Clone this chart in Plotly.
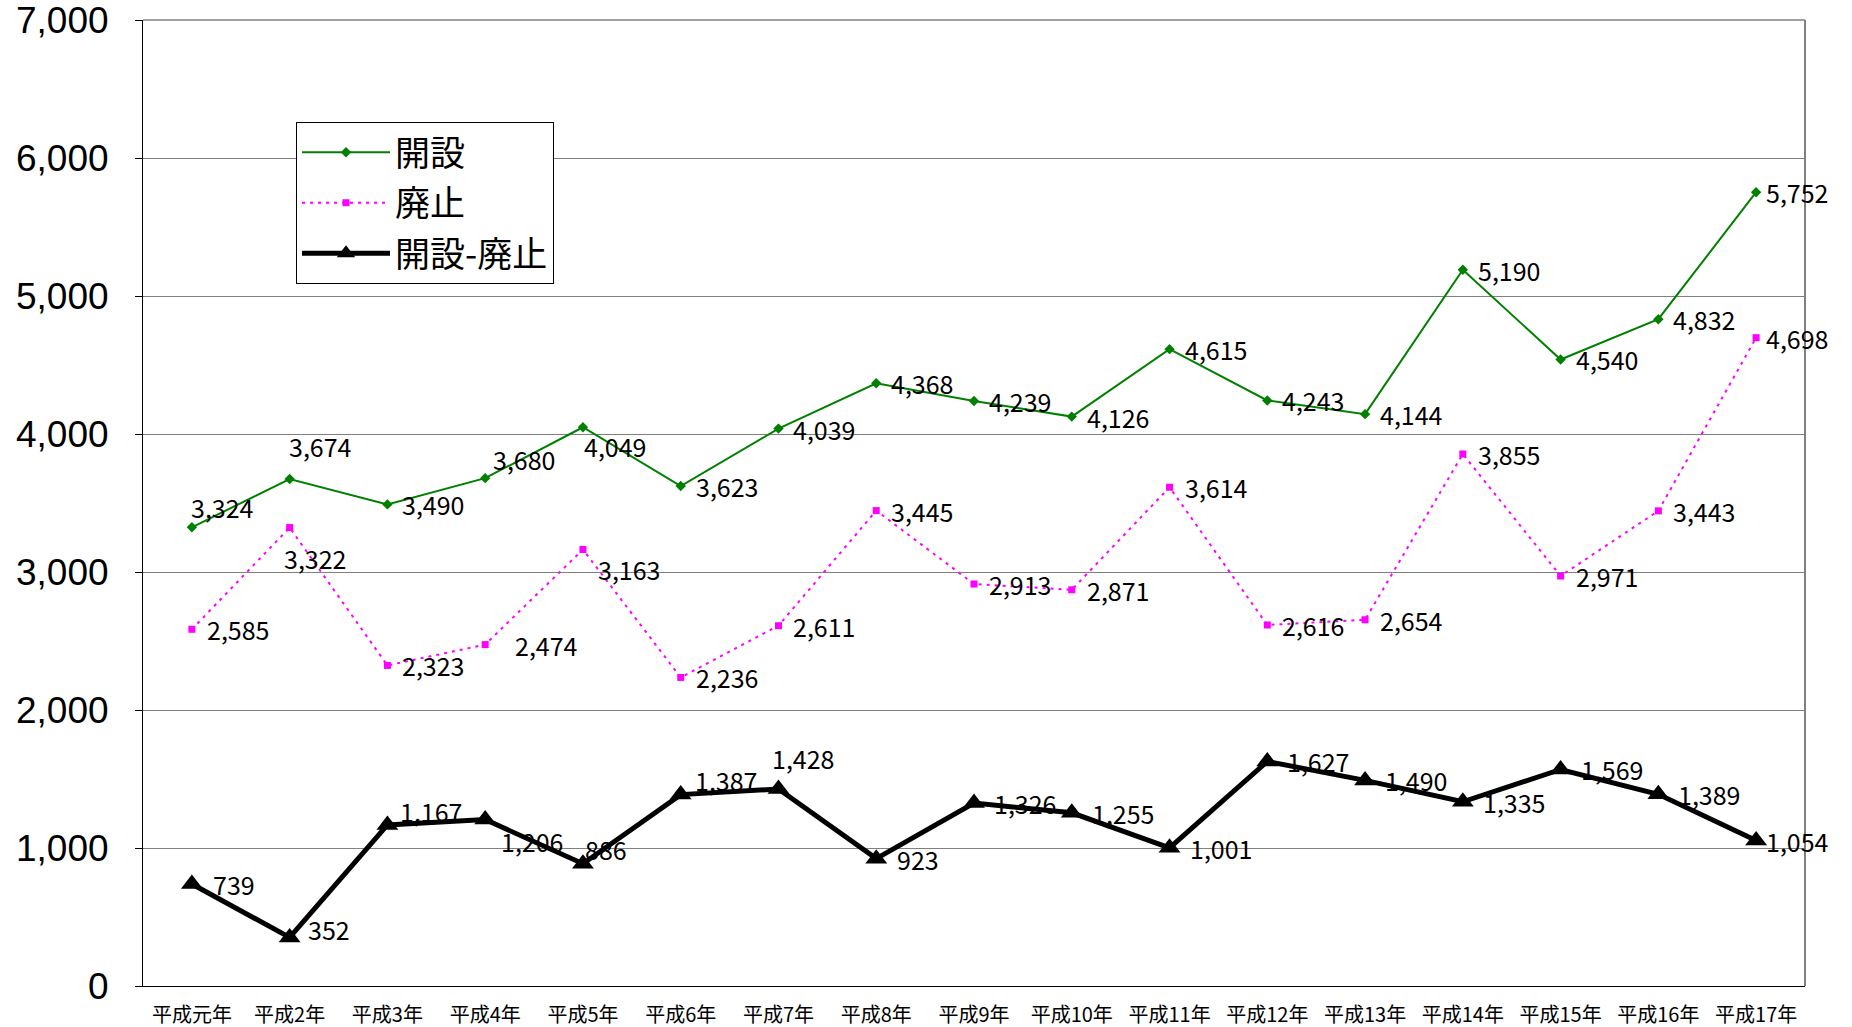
import plotly.graph_objects as go

years = ["平成元年", "平成2年", "平成3年", "平成4年", "平成5年", "平成6年", "平成7年",
         "平成8年", "平成9年", "平成10年", "平成11年", "平成12年", "平成13年",
         "平成14年", "平成15年", "平成16年", "平成17年"]
opened = [3324, 3674, 3490, 3680, 4049, 3623, 4039, 4368, 4239, 4126, 4615, 4243,
          4144, 5190, 4540, 4832, 5752]
closed = [2585, 3322, 2323, 2474, 3163, 2236, 2611, 3445, 2913, 2871, 3614, 2616,
          2654, 3855, 2971, 3443, 4698]
net = [739, 352, 1167, 1206, 886, 1387, 1428, 923, 1326, 1255, 1001, 1627, 1490,
       1335, 1569, 1389, 1054]
y_ticks = [0, 1000, 2000, 3000, 4000, 5000, 6000, 7000]

# label placement (screen px: dx right, dy down) relative to each point
label_default = {"open": (13, 0), "close": (13, 0), "net": (18, 0)}
label_override = {
    "open": {0: (-3, -20), 1: (-3, -33), 3: (6, -19), 4: (-1, 19), 16: (8, 0)},
    "close": {1: (-8, 30), 3: (28, 0), 4: (13, 19), 16: (8, 0)},
    "net": {0: (19, 0), 1: (16, -8), 2: (11, -14), 3: (14, 21), 4: (0, -15),
            5: (12, -15), 6: (-8, -31), 7: (19, 0), 16: (8, 0)},
}

JP = "Noto Sans CJK JP"
W, H = 1852, 1027
L, R, T, B = 143, 47, 20, 41

fig = go.Figure()
fig.add_trace(go.Scatter(
    x=years, y=opened, name="開設", mode="lines+markers", legendgroup="a",
    line=dict(color="#008000", width=2),
    marker=dict(symbol="diamond", size=8, color="#008000"),
))
fig.add_trace(go.Scatter(
    x=years, y=closed, name="廃止", mode="lines+markers", legendgroup="b",
    line=dict(color="#FF00FF", width=2, dash="3px,5px"),
    marker=dict(symbol="square", size=7, color="#FF00FF"),
))
fig.add_trace(go.Scatter(
    x=years, y=net, name="開設-廃止", mode="lines+markers", legendgroup="c",
    line=dict(color="#000000", width=5),
    marker=dict(symbol="triangle-up", size=19, color="#000000"),
))

annotations = []
for key, series in (("open", opened), ("close", closed), ("net", net)):
    for i, v in enumerate(series):
        dx, dy = label_override[key].get(i, label_default[key])
        annotations.append(dict(
            x=years[i], y=v, xref="x", yref="y", text=f"{v:,}", showarrow=False,
            xanchor="left", yanchor="middle", xshift=dx, yshift=-dy,
            font=dict(family=JP, size=25, color="#000000"),
        ))

fig.update_layout(
    width=W, height=H,
    margin=dict(l=L, r=R, t=T, b=B, autoexpand=False),
    paper_bgcolor="white", plot_bgcolor="white",
    showlegend=True,
    legend=dict(
        x=(296 - L) / (W - L - R), y=1 - (122 - T) / (H - T - B),
        xanchor="left", yanchor="top",
        bgcolor="white", bordercolor="#000000", borderwidth=1,
        font=dict(family=JP, size=35, color="#000000"),
        itemwidth=88, tracegroupgap=2, traceorder="grouped",
    ),
    annotations=annotations,
    shapes=[
        dict(type="line", xref="paper", yref="paper", x0=1, x1=1, y0=0, y1=1,
             line=dict(color="#808080", width=2)),
        dict(type="line", xref="paper", yref="paper", x0=0, x1=1, y0=1, y1=1,
             line=dict(color="#808080", width=1.5)),
    ],
)
fig.update_xaxes(
    type="category", range=[-0.5, len(years) - 0.5],
    showline=True, linecolor="#000000", linewidth=1,
    showgrid=False, ticks="", automargin=False,
    tickfont=dict(family=JP, size=20, color="#000000"),
    ticklabelstandoff=11,
)
fig.update_yaxes(
    range=[0, 7000], tickvals=y_ticks, tickformat=",d",
    showline=True, linecolor="#000000", linewidth=1,
    showgrid=True, gridcolor="#808080", gridwidth=1,
    ticks="outside", ticklen=7, tickcolor="#000000", automargin=False,
    tickfont=dict(family="Liberation Sans", size=37, color="#000000"),
    ticklabelstandoff=19, zeroline=False, ticklabeloverflow="allow",
)

fig.write_html("out.html", config={"displayModeBar": False},
               post_script="document.body.style.margin='0';")
